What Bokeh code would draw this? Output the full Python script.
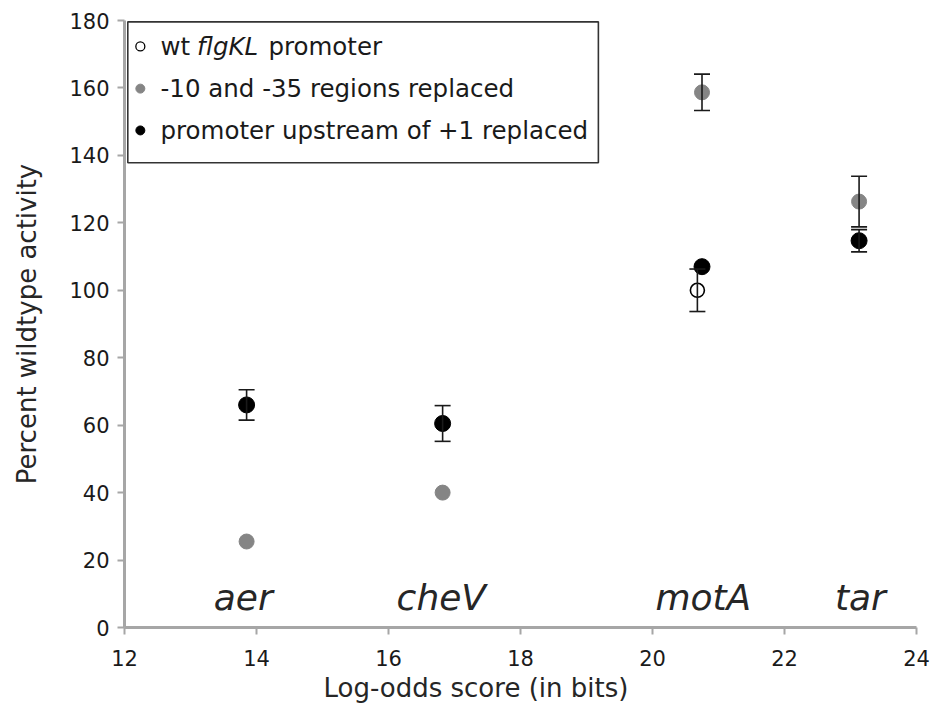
from bokeh.plotting import figure
from bokeh.models import ColumnDataSource, Whisker, TeeHead, Range1d, FixedTicker, Label, Title
from bokeh.core.properties import value
from bokeh.embed import file_html
from bokeh.resources import INLINE

# ---- data ----
genes = ["aer", "cheV", "motA", "tar"]
gene_label_x = [13.8, 16.8, 20.77, 23.15]

wt_x = [20.68]
wt_y = [100.0]
wt_err = [6.3]

rep35_x = [13.85, 16.82, 20.75, 23.13]
rep35_y = [25.5, 40.0, 158.7, 126.3]
rep35_err = [0.0, 0.0, 5.4, 7.5]

up1_x = [13.85, 16.82, 20.75, 23.13]
up1_y = [66.0, 60.5, 107.0, 114.7]
up1_err = [4.5, 5.3, 0.0, 3.3]

legend_labels = ["wt", "flgKL", "promoter", "-10 and -35 regions replaced", "promoter upstream of +1 replaced"]

x_ticks = [12, 14, 16, 18, 20, 22, 24]
y_ticks = [0, 20, 40, 60, 80, 100, 120, 140, 160, 180]
x_title = "Log-odds score (in bits)"
y_title = "Percent wildtype activity"

FONT = "DejaVu Sans"
AXIS_GRAY = "#a6a6a6"
GRAY = "#858585"

p = figure(frame_width=792, frame_height=607, output_backend="svg", toolbar_location=None,
           x_range=Range1d(12, 24), y_range=Range1d(0, 180),
           min_border_left=124, min_border_right=23, min_border_top=20, min_border_bottom=90)
p.outline_line_color = None
p.grid.visible = False
p.background_fill_color = "white"

for ax in (p.xaxis[0], p.yaxis[0]):
    ax.axis_line_color = AXIS_GRAY
    ax.axis_line_width = 3
    ax.major_tick_line_color = AXIS_GRAY
    ax.major_tick_line_width = 2
    ax.major_tick_out = 7
    ax.major_tick_in = 0
    ax.minor_tick_line_color = None
    ax.major_label_text_font = FONT
    ax.major_label_text_font_size = "21px"
    ax.major_label_text_color = "#1a1a1a"
    ax.axis_label_text_font = FONT
    ax.axis_label_text_font_size = "26px"
    ax.axis_label_text_font_style = "normal"
    ax.axis_label_text_color = "#262626"

p.xaxis[0].ticker = FixedTicker(ticks=x_ticks)
p.yaxis[0].ticker = FixedTicker(ticks=y_ticks)
p.yaxis[0].axis_label = y_title
p.xaxis[0].major_label_standoff = 15
p.yaxis[0].major_label_standoff = 8
p.yaxis[0].axis_label_standoff = 24

# x-axis title sits left of the frame centre in the original
xt = Title(text=x_title, text_font=FONT, text_font_size="26px", text_font_style="normal",
           text_color="#262626", align="left", offset=199, standoff=4)
p.add_layout(xt, "below")

def whisk(xs, ys, errs):
    keep = [i for i, e in enumerate(errs) if e > 0]
    src = ColumnDataSource(dict(x=[xs[i] for i in keep],
                                lo=[ys[i] - errs[i] for i in keep],
                                hi=[ys[i] + errs[i] for i in keep]))
    w = Whisker(base="x", lower="lo", upper="hi", source=src, dimension="height",
                line_color="#1a1a1a", line_width=1.6,
                upper_head=TeeHead(size=16, line_color="#1a1a1a", line_width=1.6),
                lower_head=TeeHead(size=16, line_color="#1a1a1a", line_width=1.6))
    w.level = "glyph"
    p.add_layout(w)

whisk(wt_x, wt_y, wt_err)
p.scatter(wt_x, wt_y, size=14, marker="circle", fill_color="white", line_color="black", line_width=1.6)
whisk(rep35_x, rep35_y, rep35_err)
p.scatter(rep35_x, rep35_y, size=15, marker="circle", fill_color=GRAY, line_color=GRAY)
whisk(up1_x, up1_y, up1_err)
p.scatter(up1_x, up1_y, size=16, marker="circle", fill_color="black", line_color="black")

# gene labels
p.text(x=gene_label_x, y=[9.0] * 4, text=genes, text_font=value(FONT), text_font_size="36px",
       text_font_style="italic", text_color="#262626", text_align="center", text_baseline="alphabetic")

# legend (manual, to allow an italic gene name)
p.quad(left=[12.05], right=[19.18], top=[179.6], bottom=[137.8], fill_color="white",
       line_color="#333333", line_width=1.6)
row_y = [172.3, 159.8, 147.4]
p.scatter([12.24], [row_y[0]], size=9, marker="circle", fill_color="white", line_color="black", line_width=1.3)
p.scatter([12.24], [row_y[1]], size=9, marker="circle", fill_color=GRAY, line_color=GRAY)
p.scatter([12.24], [row_y[2]], size=9, marker="circle", fill_color="black", line_color="black")
lab_x = [12.545, 13.10, 14.18]
for i, (lx, txt) in enumerate(zip(lab_x, legend_labels[:3])):
    p.add_layout(Label(x=lx, y=row_y[0], text=txt, text_font=FONT, text_font_size="24.5px",
                       text_font_style="italic" if i == 1 else "normal", text_color="#1a1a1a",
                       text_baseline="middle"))
for ry, txt in zip(row_y[1:], legend_labels[3:]):
    p.add_layout(Label(x=12.545, y=ry, text=txt, text_font=FONT, text_font_size="24.5px",
                       text_color="#1a1a1a", text_baseline="middle"))

open("out.html", "w").write(file_html(p, INLINE))
